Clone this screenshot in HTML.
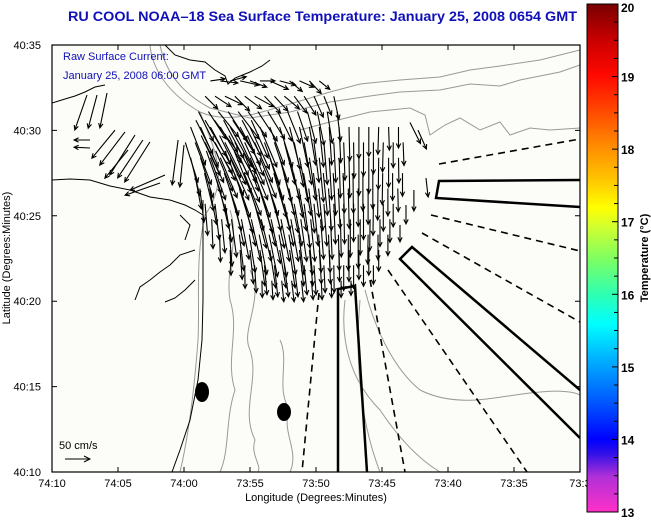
<!DOCTYPE html>
<html><head><meta charset="utf-8">
<style>
html,body{margin:0;padding:0;background:#fff;}
body{width:651px;height:518px;overflow:hidden;font-family:"Liberation Sans",sans-serif;}
svg text{font-family:"Liberation Sans",sans-serif;}
</style></head>
<body>
<svg id="chart" width="651" height="518" viewBox="0 0 651 518" xmlns="http://www.w3.org/2000/svg">
<defs>
<linearGradient id="cbg" x1="0" y1="1" x2="0" y2="0">
<stop offset="0" stop-color="#ff30c8"/>
<stop offset="0.07" stop-color="#b030d8"/>
<stop offset="0.115" stop-color="#3010e8"/>
<stop offset="0.143" stop-color="#0000ff"/>
<stop offset="0.21" stop-color="#0050ff"/>
<stop offset="0.30" stop-color="#00b0ff"/>
<stop offset="0.37" stop-color="#00ffff"/>
<stop offset="0.43" stop-color="#30ffb0"/>
<stop offset="0.50" stop-color="#80ff60"/>
<stop offset="0.56" stop-color="#d0ff30"/>
<stop offset="0.60" stop-color="#ffff00"/>
<stop offset="0.66" stop-color="#ffc000"/>
<stop offset="0.72" stop-color="#ff8c00"/>
<stop offset="0.79" stop-color="#ff4800"/>
<stop offset="0.86" stop-color="#ff0800"/>
<stop offset="0.93" stop-color="#c80000"/>
<stop offset="1" stop-color="#780000"/>
</linearGradient>
<clipPath id="plotclip"><rect x="52" y="45" width="528" height="427"/></clipPath>
</defs>
<text x="68" y="21" textLength="509" lengthAdjust="spacingAndGlyphs" font-size="13.5" font-weight="bold" fill="#1010b8">RU COOL  NOAA–18  Sea Surface Temperature:  January 25, 2008 0654 GMT</text>
<rect x="52" y="45" width="528" height="427" fill="#fcfcf8"/>
<g id="map" clip-path="url(#plotclip)">
<g fill="none" stroke="#999" stroke-width="1">
<path d="M150,45 C152,70 170,95 200,112 C230,125 260,112 290,104 L330,92 L360,84 L400,80 L440,77 L470,70 L500,66 L540,60 L580,50"/>
<path d="M160,45 C165,70 180,92 210,108 L250,118 L290,112 L330,102 L370,96 L400,92 L440,90 L470,84 L500,86 L520,80 L560,72 L580,65"/>
<path d="M300,130 L330,122 L370,112 L390,110 L410,108 L425,115 L430,135 L445,125 L460,118 L480,130 L500,122 L510,135 L530,128 L550,130 L580,128"/>
<path d="M200,112 C215,150 230,180 205,215 C195,260 200,300 198,340 C195,380 190,430 180,472"/>
<path d="M230,210 C240,240 225,270 230,300 C240,330 225,360 235,390 C225,420 230,450 220,472"/>
<path d="M250,270 C265,300 240,330 250,350 C260,380 240,410 255,440 C250,455 262,465 258,472"/>
<path d="M345,300 C340,340 350,380 380,410 C400,440 420,460 440,472"/>
<path d="M365,290 C375,330 395,370 420,390 C460,410 500,395 540,392 C560,390 575,392 580,395"/>
<path d="M360,300 C355,360 360,420 380,472"/>
<path d="M280,340 C290,360 275,390 290,410 C280,430 300,450 290,472"/>
</g>
<g fill="none" stroke="#000" stroke-width="1">
<path d="M52,103 L65,99 L75,96 L85,92 L95,87 L105,85"/>
<path d="M165,45 L175,55 L190,60 L205,62 L215,70 L225,76 L228,84 L235,78 L250,72 L262,66 L270,60"/>
<path d="M52,180 L70,179 L90,180 L110,186 L130,190 L150,197 L170,200 L185,205 L195,210 L203,215"/>
<path d="M203,200 L203,300 L202,340 L198,380 L190,420 L180,450 L172,472"/>
<path d="M195,250 L180,255 L170,265 L160,272 L150,280 L140,287 L135,300"/>
<path d="M195,280 L185,290 L175,298 L165,302"/>
<path d="M180,215 L190,225 L185,240"/>
</g>
<g fill="none" stroke="#000">
<path d="M319,293 L302,472" stroke-width="1.6" stroke-dasharray="7,5"/>
<path d="M338,472 L338,289 L355,286 L367,472" stroke-width="2.5"/>
<path d="M370,280 L405,472" stroke-width="1.6" stroke-dasharray="7,5"/>
<path d="M388,270 L527,472" stroke-width="1.6" stroke-dasharray="7,5"/>
<path d="M580,438 L400,259 L412,247 L580,390" stroke-width="2.5"/>
<path d="M431,215 L580,251" stroke-width="1.6" stroke-dasharray="7,5"/>
<path d="M422,233 L580,322" stroke-width="1.6" stroke-dasharray="7,5"/>
<path d="M439,164 L580,139" stroke-width="1.6" stroke-dasharray="7,5"/>
<path d="M580,180 L439,181 L436,198 L580,207" stroke-width="2.5"/>
</g>
<ellipse cx="202" cy="392" rx="7" ry="10" fill="#000"/>
<ellipse cx="284" cy="412" rx="7" ry="9" fill="#000"/>
<g id="arrows" stroke="#000" stroke-width="1.1" fill="none"></g>
</g>
<rect x="52" y="45" width="528" height="427" fill="none" stroke="#000" stroke-width="1.2"/>
<g id="axes"></g>
<text x="63" y="60" font-size="11" fill="#1010b8">Raw Surface Current:</text>
<text x="63" y="79" font-size="11" fill="#1010b8">January 25, 2008 06:00 GMT</text>
<text x="59" y="449" font-size="11" fill="#000">50 cm/s</text>
<g stroke="#000" stroke-width="1" fill="none">
<path d="M65,459 L90,459 M84,456 L90,459 L84,462"/>
</g>
<text x="316" y="501" text-anchor="middle" font-size="11">Longitude (Degrees:Minutes)</text>
<text transform="translate(10,258) rotate(-90)" text-anchor="middle" font-size="11">Latitude (Degrees:Minutes)</text>
<rect x="587" y="4" width="31" height="508" fill="url(#cbg)" stroke="#000" stroke-width="1"/>
<g id="cbticks"></g>
<text transform="translate(648,258) rotate(-90)" text-anchor="middle" font-size="11" font-weight="bold">Temperature (°C)</text>
</svg>
<script>
// axis definitions
const xTickLabels = ["74:10","74:05","74:00","73:55","73:50","73:45","73:40","73:35","73:3"];
const yTickLabels = ["40:10","40:15","40:20","40:25","40:30","40:35"];
const cbLabels = [13,14,15,16,17,18,19,20];
// arrow grid rows: latitude (minutes north of 40:10), first longitude (minutes east of 74:10)
const rowLat = [22.9,22.0,21.1,20.2,19.3,18.4,17.5,16.6,15.7,14.8,13.9,13.0,12.1,11.2];
const rowLon0 = [12.0,11.6,11.1,10.5,10.1,10.5,10.8,11.2,11.6,12.1,12.7,13.5,14.6,15.9];
const uRows = [
[35,42,38,45,40,36,44,38,30,34,28,25],
[30,38,42,35,40,45,38,32,36,30,28,22,18,12],
[35,42,48,45,50,44,46,40,34,30,24,20,16,12,8],
[35,42,48,50,52,48,46,40,34,30,25,20,15,10,6,4,2,0,0,-2,2,0],
[30,38,44,48,50,52,46,42,36,32,26,22,18,12,8,5,3,1,0,0,-2,0,2],
[22,30,36,40,44,46,42,38,32,28,24,20,15,10,6,3,2,0,0,-1,0,1],
[16,22,28,34,38,40,38,34,30,26,22,18,14,10,6,3,1,0,0,-1,0,0],
[10,16,22,28,32,34,32,28,26,22,18,14,10,7,4,2,0,0,-1,0,1],
[6,10,16,22,26,28,26,24,22,18,14,10,7,4,2,0,0,-1,0,0],
[3,8,12,18,22,24,22,20,18,14,10,7,4,2,0,0,-1,0,0],
[2,6,10,14,18,20,18,16,12,9,6,4,2,0,0,-1,0,0],
[2,5,8,12,14,15,13,10,8,5,3,1,0,0,0,0],
[1,4,6,8,10,9,7,5,3,1,0,0,0,0],
[1,3,5,6,5,4,2,1,0,0]
];
const vRows = [
[5,-5,10,-10,-15,0,-20,-10,-25,-15,-30,-20],
[-30,-25,-20,-35,-30,-25,-40,-35,-30,-40,-45,-50,-45,-55],
[-70,-65,-60,-70,-65,-60,-70,-65,-70,-75,-70,-75,-80,-75,-70],
[-90,-95,-90,-85,-95,-90,-100,-95,-90,-95,-100,-95,-90,-95,-90,-85,-80,-75,-70,-65,-55,-50],
[-95,-100,-95,-90,-100,-95,-100,-95,-100,-95,-100,-105,-100,-95,-100,-95,-90,-85,-80,-75,-70,-60,-55],
[-90,-95,-100,-95,-100,-105,-100,-95,-100,-105,-100,-105,-100,-105,-100,-95,-95,-90,-85,-75,-70,-60],
[-85,-90,-95,-100,-105,-100,-105,-100,-105,-100,-105,-100,-105,-100,-100,-95,-95,-90,-85,-75,-65,-55],
[-80,-85,-95,-100,-105,-100,-105,-100,-100,-105,-100,-105,-100,-100,-95,-95,-90,-85,-75,-65,-55],
[-75,-85,-90,-100,-100,-105,-100,-105,-100,-100,-105,-100,-100,-95,-95,-90,-85,-75,-65,-55],
[-70,-80,-90,-95,-100,-100,-105,-100,-100,-100,-100,-95,-95,-90,-90,-85,-75,-65,-55],
[-65,-75,-85,-90,-95,-100,-100,-95,-95,-95,-90,-90,-85,-85,-80,-70,-60,-50],
[-60,-70,-80,-85,-90,-90,-90,-85,-85,-80,-80,-75,-75,-70,-60,-50],
[-55,-65,-70,-75,-75,-75,-70,-70,-65,-65,-60,-55,-50,-45],
[-40,-45,-50,-50,-50,-45,-45,-40,-40,-35]
];
// scattered extra vectors (incl. dense upper-left cluster)
const extraLon = [2.65,3.41,4.17,2.88,2.88,4.77,5.53,6.29,6.89,7.42,5.76,9.55,10.0,8.56,8.18,27.12,27.73,28.33,27.42,26.82,26.36,
  10.9,11.6,12.3,13.0,13.7,14.4,15.1,11.3,12.0,12.7,13.4,14.1,14.8,11.7,12.4,13.1,13.8,14.5];
const extraLat = [22.07,22.07,22.19,19.44,18.97,20.02,19.91,19.73,19.44,19.32,18.85,19.44,19.15,17.39,16.92,20.46,20.02,17.21,16.51,15.63,14.46,
  20.6,20.6,20.6,20.6,20.6,20.6,20.6,19.7,19.7,19.7,19.7,19.7,19.7,18.8,18.8,18.8,18.8,18.8];
const extraU = [-29,-21,-17,-38,-38,-55,-60,-60,-60,-60,-55,-14,-10,-83,-83,25,20,5,0,0,0,
  40,50,55,48,52,45,40,45,52,50,46,42,38,35,40,44,40,36];
const extraV = [-83,-79,-83,0,2,-67,-79,-95,-90,-95,-67,-107,-100,-36,-29,-50,-45,-45,-50,-45,-40,
  -80,-85,-75,-90,-80,-85,-90,-95,-90,-100,-95,-90,-95,-100,-95,-105,-100,-95];

const NS = "http://www.w3.org/2000/svg";
const X0 = 52, X1 = 580, Y0 = 472, Y1 = 45;
const lonStep = 0.75;
function xScale(lonMin){ return X0 + (lonMin/40)*(X1-X0); }
function yScale(latMin){ return Y0 - (latMin/25)*(Y0-Y1); }
const pxPerCm = 0.42;

const arrowsG = document.getElementById('arrows');
function drawArrow(lon, lat, u, v, name){
  const x = xScale(lon), y = yScale(lat);
  const x2 = x + u*pxPerCm, y2 = y - v*pxPerCm;
  const ang = Math.atan2(y2-y, x2-x);
  const h = 5;
  const a1x = x2 - h*Math.cos(ang-0.45), a1y = y2 - h*Math.sin(ang-0.45);
  const a2x = x2 - h*Math.cos(ang+0.45), a2y = y2 - h*Math.sin(ang+0.45);
  const p = document.createElementNS(NS,'path');
  p.setAttribute('d', `M${x.toFixed(1)},${y.toFixed(1)} L${x2.toFixed(1)},${y2.toFixed(1)} M${a1x.toFixed(1)},${a1y.toFixed(1)} L${x2.toFixed(1)},${y2.toFixed(1)} L${a2x.toFixed(1)},${a2y.toFixed(1)}`);
  
  
  arrowsG.appendChild(p);
}
rowLat.forEach((lat, r) => {
  uRows[r].forEach((u, i) => {
    drawArrow(rowLon0[r] + i*lonStep, lat, u, vRows[r][i], 'current-vector');
  });
});
extraLon.forEach((lon, i) => {
  drawArrow(lon, extraLat[i], extraU[i], extraV[i], 'current-vector');
});

// axes ticks & labels
const axesG = document.getElementById('axes');
xTickLabels.forEach((lab, i) => {
  const x = xScale(i*5);
  const t = document.createElementNS(NS,'path');
  t.setAttribute('d', `M${x},${Y0} L${x},${Y0-5} M${x},${Y1} L${x},${Y1+5}`);
  t.setAttribute('stroke','#000');
  
  
  axesG.appendChild(t);
  const tx = document.createElementNS(NS,'text');
  tx.setAttribute('x', x); tx.setAttribute('y', 487);
  tx.setAttribute('text-anchor','middle'); tx.setAttribute('font-size','11');
  tx.textContent = lab;
  
  
  axesG.appendChild(tx);
});
yTickLabels.forEach((lab, i) => {
  const y = yScale(i*5);
  const t = document.createElementNS(NS,'path');
  t.setAttribute('d', `M${X0},${y} L${X0+5},${y} M${X1},${y} L${X1-5},${y}`);
  t.setAttribute('stroke','#000');
  
  
  axesG.appendChild(t);
  const tx = document.createElementNS(NS,'text');
  tx.setAttribute('x', 41); tx.setAttribute('y', y+4);
  tx.setAttribute('text-anchor','end'); tx.setAttribute('font-size','11');
  tx.textContent = lab;
  
  
  axesG.appendChild(tx);
});
// colorbar ticks
const cbG = document.getElementById('cbticks');
function cbY(t){ return 512 - (t-13)/7*508; }
for (let k = 0; k <= 28; k++) {
  const t = 13 + k*0.25, y = cbY(t);
  const major = (k % 4 === 0);
  const tk = document.createElementNS(NS,'path');
  tk.setAttribute('d', `M618,${y} L${major?612:614},${y}`);
  tk.setAttribute('stroke','#000');
  
  
  cbG.appendChild(tk);
}
cbLabels.forEach(v => {
  const tx = document.createElementNS(NS,'text');
  tx.setAttribute('x', 621); tx.setAttribute('y', Math.min(Math.max(cbY(v)+5, 12), 517));
  tx.setAttribute('font-size','12'); tx.setAttribute('font-weight','bold');
  tx.textContent = v;
  
  
  cbG.appendChild(tx);
});
</script>
</body></html>
